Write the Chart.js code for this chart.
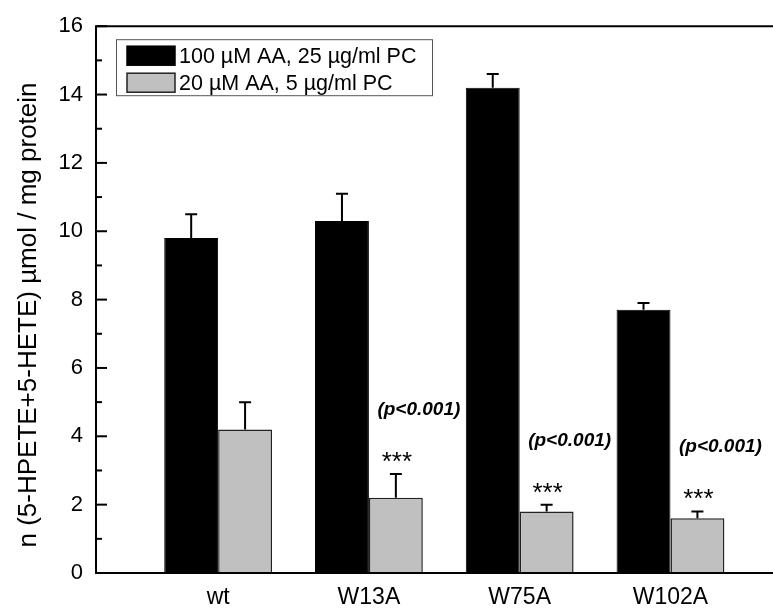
<!DOCTYPE html>
<html>
<head>
<meta charset="utf-8">
<script src="https://cdn.jsdelivr.net/npm/chart.js@4/dist/chart.umd.min.js"></script>
<style>
  body { margin: 0; background: #fff; }
</style>
</head>
<body>
<canvas id="chart" width="773" height="608"></canvas>
<script>
var categories = ["wt", "W13A", "W75A", "W102A"];
var highAA = [9.8, 10.3, 14.2, 7.7];
var highAAErr = [0.7, 0.8, 0.4, 0.2];
var lowAA = [4.2, 2.2, 1.8, 1.6];
var lowAAErr = [0.8, 0.7, 0.2, 0.2];
var stars = ["", "***", "***", "***"];
var pNotes = ["", "(p<0.001)", "(p<0.001)", "(p<0.001)"];
var seriesNames = ["100 \u00b5M AA, 25 \u00b5g/ml PC", "20 \u00b5M AA, 5 \u00b5g/ml PC"];
var yTitle = "n (5-HPETE+5-HETE) \u00b5mol / mg protein";

const FONT = "'Liberation Sans', Arial, sans-serif";
Chart.defaults.font.family = FONT;
Chart.defaults.color = "#000";

const toPoints = (vals) => vals.map((v, i) => ({x: i + 1, y: v}));

// frame, inward ticks, error bars, notes, y title and the boxed legend
const extras = {
  id: "extras",
  afterDatasetsDraw(chart) {
    const ctx = chart.ctx, a = chart.chartArea, y = chart.scales.y;
    ctx.save();
    ctx.strokeStyle = "#000";
    ctx.lineWidth = 2;

    // error bars (upper only)
    chart.data.datasets.forEach((ds, i) => {
      chart.getDatasetMeta(i).data.forEach((bar, j) => {
        const top = y.getPixelForValue(ds.data[j].y + ds.errors[j]);
        ctx.beginPath();
        ctx.moveTo(bar.x, bar.y);
        ctx.lineTo(bar.x, top);
        ctx.moveTo(bar.x - 6, top);
        ctx.lineTo(bar.x + 6, top);
        ctx.stroke();
      });
    });

    // frame
    ctx.beginPath();
    ctx.moveTo(a.right, a.top);
    ctx.lineTo(a.left, a.top);
    ctx.lineTo(a.left, a.bottom);
    ctx.lineTo(a.right, a.bottom);
    ctx.stroke();

    // inward ticks
    for (let v = 0; v <= 16; v++) {
      const py = y.getPixelForValue(v);
      ctx.beginPath();
      ctx.moveTo(a.left, py);
      ctx.lineTo(a.left + (v % 2 === 0 ? 11 : 6), py);
      ctx.stroke();
    }

    // y axis title
    ctx.fillStyle = "#000";
    ctx.save();
    ctx.translate(36, 315);
    ctx.rotate(-Math.PI / 2);
    ctx.textAlign = "center";
    ctx.textBaseline = "alphabetic";
    ctx.font = "26px " + FONT;
    ctx.fillText(yTitle, 0, 0);
    ctx.restore();

    // significance notes over the gray bars
    const meta = chart.getDatasetMeta(1);
    ctx.textAlign = "center";
    ctx.textBaseline = "alphabetic";
    meta.data.forEach((bar, j) => {
      const top = y.getPixelForValue(lowAA[j] + lowAAErr[j]);
      ctx.font = "26px " + FONT;
      ctx.fillText(stars[j], bar.x + 1, top - 4);
      ctx.font = "italic bold 19px " + FONT;
      ctx.fillText(pNotes[j], bar.x + 23, top - 59);
    });

    // legend
    const lx = a.left + 20, ly = a.top + 13;
    ctx.lineWidth = 1;
    ctx.strokeStyle = "#555";
    ctx.strokeRect(lx + 0.5, ly + 0.5, 316, 56);
    ctx.textAlign = "left";
    ctx.font = "21.5px " + FONT;
    chart.data.datasets.forEach((ds, i) => {
      const ry = ly + 7 + i * 27;
      ctx.fillStyle = ds.backgroundColor;
      ctx.fillRect(lx + 11, ry, 48, 19);
      ctx.strokeStyle = ds.borderColor;
      ctx.lineWidth = 1.5;
      ctx.strokeRect(lx + 11, ry, 48, 19);
      ctx.fillStyle = "#000";
      ctx.fillText(ds.label, lx + 63, ry + 17);
    });
    ctx.restore();
  }
};

new Chart("chart", {
  type: "bar",
  data: {
    datasets: [
      {
        label: seriesNames[0],
        data: toPoints(highAA),
        errors: highAAErr,
        backgroundColor: "#000000",
        borderColor: "#000000",
        borderWidth: 1
      },
      {
        label: seriesNames[1],
        data: toPoints(lowAA),
        errors: lowAAErr,
        backgroundColor: "#c0c0c0",
        borderColor: "#222222",
        borderWidth: 1.5
      }
    ]
  },
  options: {
    responsive: false,
    animation: false,
    categoryPercentage: 0.715,
    barPercentage: 1,
    layout: {padding: {top: 22, right: 0, bottom: 0, left: 0}},
    plugins: {legend: {display: false}, tooltip: {enabled: false}},
    scales: {
      x: {
        type: "linear",
        min: 0.19,
        max: 4.68,
        offset: false,
        grid: {display: false, drawTicks: false, offset: false},
        border: {display: false},
        afterBuildTicks: (s) => { s.ticks = categories.map((c, i) => ({value: i + 1})); },
        afterFit: (s) => { s.height = 35; },
        ticks: {
          padding: 11,
          maxRotation: 0,
          font: {size: 23},
          callback: (v) => categories[v - 1]
        }
      },
      y: {
        min: 0,
        max: 16,
        grid: {display: false, drawTicks: false},
        border: {display: false},
        afterFit: (s) => { s.width = 96; },
        ticks: {stepSize: 2, padding: 13, font: {size: 22}}
      }
    }
  },
  plugins: [extras]
});
</script>
</body>
</html>
